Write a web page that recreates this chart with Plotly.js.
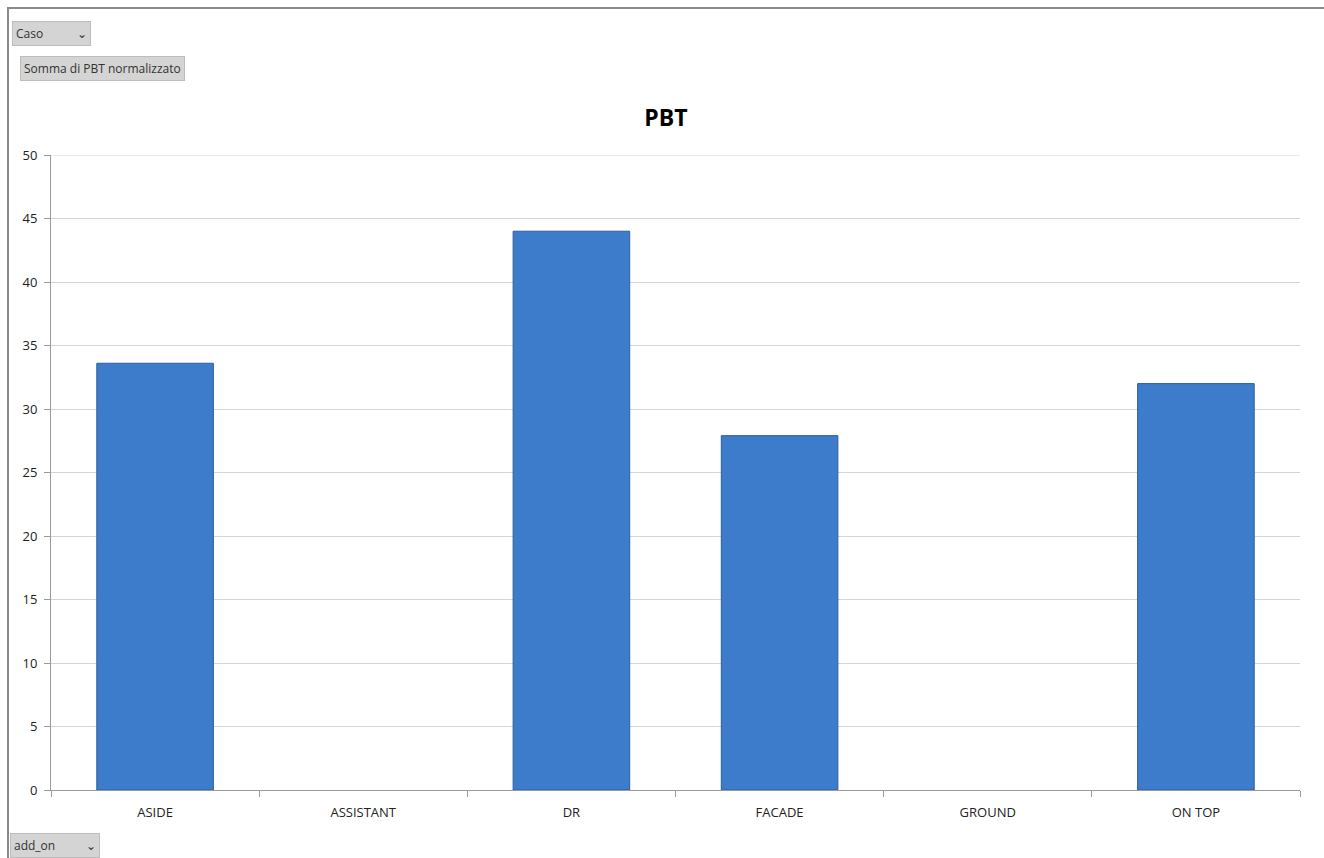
<!DOCTYPE html>
<html>
<head>
<meta charset="utf-8">
<script src="https://cdn.plot.ly/plotly-3.0.1.min.js"></script>
<style>
html,body{margin:0;padding:0;background:#fff;}
#chart{position:absolute;left:0;top:0;width:1324px;height:858px;}
#frame{position:absolute;left:7px;top:7px;width:1330px;height:860px;border-left:2px solid #8a8a8a;border-top:2px solid #8a8a8a;pointer-events:none;}
</style>
</head>
<body>
<div id="chart"></div>
<div id="frame"></div>
<script>
const categories = ["ASIDE", "ASSISTANT", "DR", "FACADE", "GROUND", "ON TOP"];
const values = [33.6, null, 44.0, 27.9, null, 32.0];
const yTicks = [0, 5, 10, 15, 20, 25, 30, 35, 40, 45, 50];
const yMax = 50;

const trace = {
  type: "bar",
  x: categories,
  y: values,
  marker: {color: "#3d7bcb", line: {color: "#2d5d9c", width: 1}},
  hoverinfo: "x+y"
};

const btnFont = {family: "Open Sans, Liberation Sans, sans-serif", size: 12, color: "#333"};
const tickFont = {family: "Open Sans, Liberation Sans, sans-serif", size: 13, color: "#222"};

const layout = {
  width: 1324, height: 858,
  margin: {l: 51, r: 24, t: 155, b: 68},
  paper_bgcolor: "#fff", plot_bgcolor: "#fff",
  showlegend: false,
  bargap: 0.44,
  title: {text: "<b>PBT</b>", x: 0.503, xanchor: "center", y: 0.862, yanchor: "middle",
          font: {family: "Open Sans, Liberation Sans, sans-serif", size: 23, color: "#000"}},
  xaxis: {
    type: "category",
    showline: true, linecolor: "#9a9a9a", linewidth: 1,
    ticks: "outside", tickson: "boundaries", ticklen: 6, tickcolor: "#9a9a9a",
    ticklabelstandoff: 10,
    showgrid: false,
    tickfont: tickFont
  },
  yaxis: {
    range: [0, yMax], tickvals: yTicks,
    showline: true, linecolor: "#9a9a9a", linewidth: 1,
    ticks: "outside", ticklen: 6, tickcolor: "#9a9a9a",
    ticklabelstandoff: 4,
    gridcolor: "#d4d4d4", gridwidth: 1, zeroline: false,
    tickfont: tickFont
  },
  shapes: [
    {type: "line", xref: "paper", yref: "y", x0: 0, x1: 1, y0: yMax, y1: yMax,
     line: {color: "#d4d4d4", width: 1}, layer: "below"}
  ],
  annotations: [
    {text: "Caso           ⌄", xref: "paper", yref: "paper", x: -0.031, y: 1.192, xanchor: "left", yanchor: "middle",
     showarrow: false, bgcolor: "#d4d4d4", bordercolor: "#bdbdbd", borderwidth: 1, borderpad: 3, font: btnFont},
    {text: "Somma di PBT normalizzato", xref: "paper", yref: "paper", x: -0.025, y: 1.136, xanchor: "left", yanchor: "middle",
     showarrow: false, bgcolor: "#d4d4d4", bordercolor: "#bdbdbd", borderwidth: 1, borderpad: 3, font: btnFont},
    {text: "add_on          ⌄", xref: "paper", yref: "paper", x: -0.0325, y: -0.087, xanchor: "left", yanchor: "middle",
     showarrow: false, bgcolor: "#d4d4d4", bordercolor: "#bdbdbd", borderwidth: 1, borderpad: 3, font: btnFont}
  ]
};

Plotly.newPlot("chart", [trace], layout, {displayModeBar: false, staticPlot: true});
</script>
</body>
</html>
